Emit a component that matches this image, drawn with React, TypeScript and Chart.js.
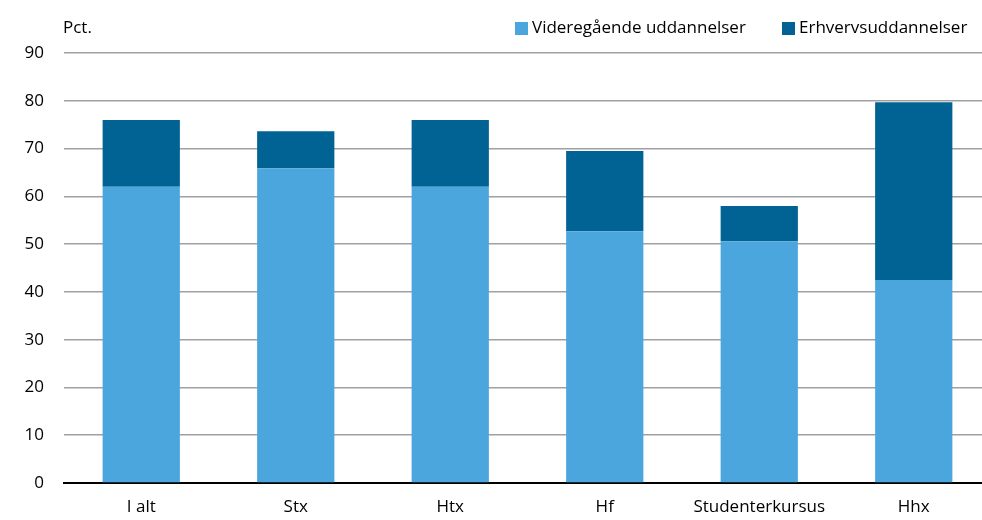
import React, { useEffect, useRef } from "react";
import { Chart, registerables } from "chart.js";

Chart.register(...registerables);

const categories = ["I alt", "Stx", "Htx", "Hf", "Studenterkursus", "Hhx"];
const videregaaende = [62, 65.9, 62, 52.7, 50.6, 42.5];
const erhverv = [14, 7.7, 14, 16.8, 7.4, 37.2];
const seriesNames = ["Videregående uddannelser", "Erhvervsuddannelser"];
const seriesColors = ["#4BA6DE", "#006394"];
const yTicks = [0, 10, 20, 30, 40, 50, 60, 70, 80, 90];
const unitLabel = "Pct.";

const FONT = "'Open Sans', sans-serif";

const overlayPlugin = {
  id: "overlay",
  afterDraw(chart: any) {
    const ctx = chart.ctx;
    ctx.save();
    ctx.font = `17px ${FONT}`;
    ctx.fillStyle = "#000";
    ctx.textBaseline = "middle";
    ctx.textAlign = "left";
    ctx.fillText(unitLabel, 63, 28);
    const items = [
      { x: 515, label: seriesNames[0], color: seriesColors[0] },
      { x: 782, label: seriesNames[1], color: seriesColors[1] },
    ];
    items.forEach((it) => {
      ctx.fillStyle = it.color;
      ctx.fillRect(it.x, 22, 13, 13);
      ctx.fillStyle = "#000";
      ctx.fillText(it.label, it.x + 17, 28);
    });
    ctx.restore();
  },
};

export default function App() {
  const ref = useRef<HTMLCanvasElement>(null);
  useEffect(() => {
    if (!ref.current) return;
    const chart = new Chart(ref.current, {
      type: "bar",
      data: {
        labels: categories,
        datasets: [
          { label: seriesNames[0], data: videregaaende, backgroundColor: seriesColors[0] },
          { label: seriesNames[1], data: erhverv, backgroundColor: seriesColors[1] },
        ],
      },
      options: {
        responsive: false,
        animation: false,
        layout: { padding: { top: 53, left: 0, right: 0, bottom: 0 } },
        datasets: { bar: { barPercentage: 0.5, categoryPercentage: 1 } },
        plugins: { legend: { display: false }, tooltip: { enabled: false } },
        scales: {
          x: {
            stacked: true,
            grid: { display: false, drawTicks: false },
            border: { display: true, color: "#000", width: 2 },
            ticks: { color: "#000", font: { family: FONT, size: 17 }, padding: 14, maxRotation: 0 },
            afterFit: (s: any) => { s.height = 37; },
          },
          y: {
            stacked: true,
            min: 0,
            max: 90,
            afterBuildTicks: (s: any) => { s.ticks = yTicks.map((v) => ({ value: v })); },
            grid: { color: "#a0a0a0", lineWidth: 1.5, drawTicks: false },
            border: { display: false },
            ticks: { color: "#000", font: { family: FONT, size: 17 }, padding: 20 },
            afterFit: (s: any) => { s.width = 64; },
          },
        },
      },
      plugins: [overlayPlugin],
    });
    return () => chart.destroy();
  }, []);
  return (
    <div style={{ position: "fixed", left: 0, top: 0, width: 982, height: 520, overflow: "hidden", background: "#fff" }}>
      <canvas ref={ref} width={991} height={520} style={{ display: "block" }} />
    </div>
  );
}
